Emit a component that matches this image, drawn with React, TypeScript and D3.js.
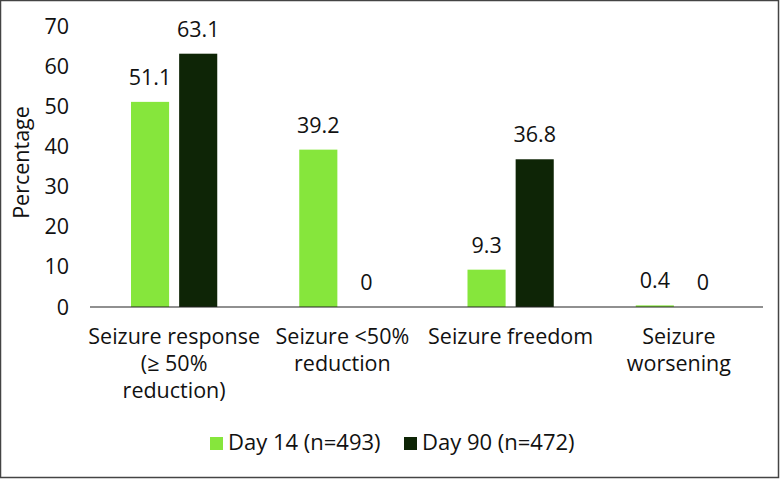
import * as d3 from "d3";
import React, { useEffect, useRef } from 'react'

const categories = [
  ["Seizure response", "(≥ 50%", "reduction)"],
  ["Seizure <50%", "reduction"],
  ["Seizure freedom"],
  ["Seizure", "worsening"],
]
const seriesNames = ["Day 14 (n=493)", "Day 90 (n=472)"]
const day14 = [51.1, 39.2, 9.3, 0.4]
const day90 = [63.1, 0, 36.8, 0]
const yTicks = [0, 10, 20, 30, 40, 50, 60, 70]
const colors = ["#86e63c", "#0e2506"]

const W = 780
const H = 479
const FONT = "'Open Sans', sans-serif"

const plotGraph = (node: SVGSVGElement) => {
  const svg = d3.select(node)
  svg.selectAll('*').remove()

  const left = 90, right = 763, top = 26, bottom = 307

  svg.append('rect')
    .attr('x', 0.5).attr('y', 0.5)
    .attr('width', W - 2).attr('height', H - 2)
    .attr('fill', '#fff')
    .attr('stroke', '#444')
    .attr('stroke-width', 1.5)

  const x0 = d3.scaleBand<number>()
    .domain(d3.range(categories.length))
    .range([left, right])
  const x1 = d3.scaleBand<number>()
    .domain([0, 1])
    .range([41, x0.bandwidth() - 41])
    .paddingInner(10 / 48)
  const y = d3.scaleLinear()
    .domain([0, 70])
    .range([bottom, top])

  // y ticks
  svg.append('g')
    .selectAll('text')
    .data(yTicks)
    .enter()
    .append('text')
    .attr('x', 69)
    .attr('y', (d) => y(d))
    .attr('dy', '0.35em')
    .attr('text-anchor', 'end')
    .attr('font-family', FONT)
    .attr('font-size', 21.5)
    .attr('fill', '#111')
    .text((d) => d)

  svg.append('text')
    .attr('transform', `translate(29,${(top + bottom) / 2 - 4}) rotate(-90)`)
    .attr('text-anchor', 'middle')
    .attr('font-family', FONT)
    .attr('font-size', 21.5)
    .attr('fill', '#111')
    .text('Percentage')

  const series = [day14, day90]
  const groups = svg.selectAll('g.grp')
    .data(categories)
    .enter()
    .append('g')
    .attr('class', 'grp')
    .attr('transform', (_d, i) => `translate(${x0(i)},0)`)

  series.forEach((vals, s) => {
    groups.append('rect')
      .attr('x', x1(s)!)
      .attr('width', x1.bandwidth())
      .attr('y', (_d, i) => y(vals[i]))
      .attr('height', (_d, i) => bottom - y(vals[i]))
      .attr('fill', colors[s])

    groups.append('text')
      .attr('x', x1(s)! + x1.bandwidth() / 2)
      .attr('y', (_d, i) => y(vals[i]) - 17)
      .attr('text-anchor', 'middle')
      .attr('font-family', FONT)
      .attr('font-size', 21.5)
      .attr('fill', '#111')
      .text((_d, i) => vals[i])
  })

  // axis line
  svg.append('line')
    .attr('x1', left).attr('x2', right)
    .attr('y1', bottom).attr('y2', bottom)
    .attr('stroke', '#222')
    .attr('stroke-width', 1.2)

  // category labels
  groups.append('text')
    .attr('x', x0.bandwidth() / 2)
    .attr('text-anchor', 'middle')
    .attr('font-family', FONT)
    .attr('font-size', 21.5)
    .attr('fill', '#111')
    .selectAll('tspan')
    .data((d) => d)
    .enter()
    .append('tspan')
    .attr('x', x0.bandwidth() / 2)
    .attr('y', (_d, j) => 344 + j * 27)
    .text((d) => d)

  // legend
  const legendX = [210, 404]
  seriesNames.forEach((name, s) => {
    svg.append('rect')
      .attr('x', legendX[s]).attr('y', 437)
      .attr('width', 13).attr('height', 13)
      .attr('fill', colors[s])
    svg.append('text')
      .attr('x', legendX[s] + 18).attr('y', 450)
      .attr('font-family', FONT)
      .attr('font-size', 22)
      .attr('fill', '#111')
      .text(name)
  })
}

export default function App() {
  const ref = useRef<SVGSVGElement>(null)
  useEffect(() => {
    if (ref.current) plotGraph(ref.current)
  })
  return (
    <div style={{ position: 'absolute', left: 0, top: 0 }}>
      <svg ref={ref} width={W} height={H} />
    </div>
  )
}
